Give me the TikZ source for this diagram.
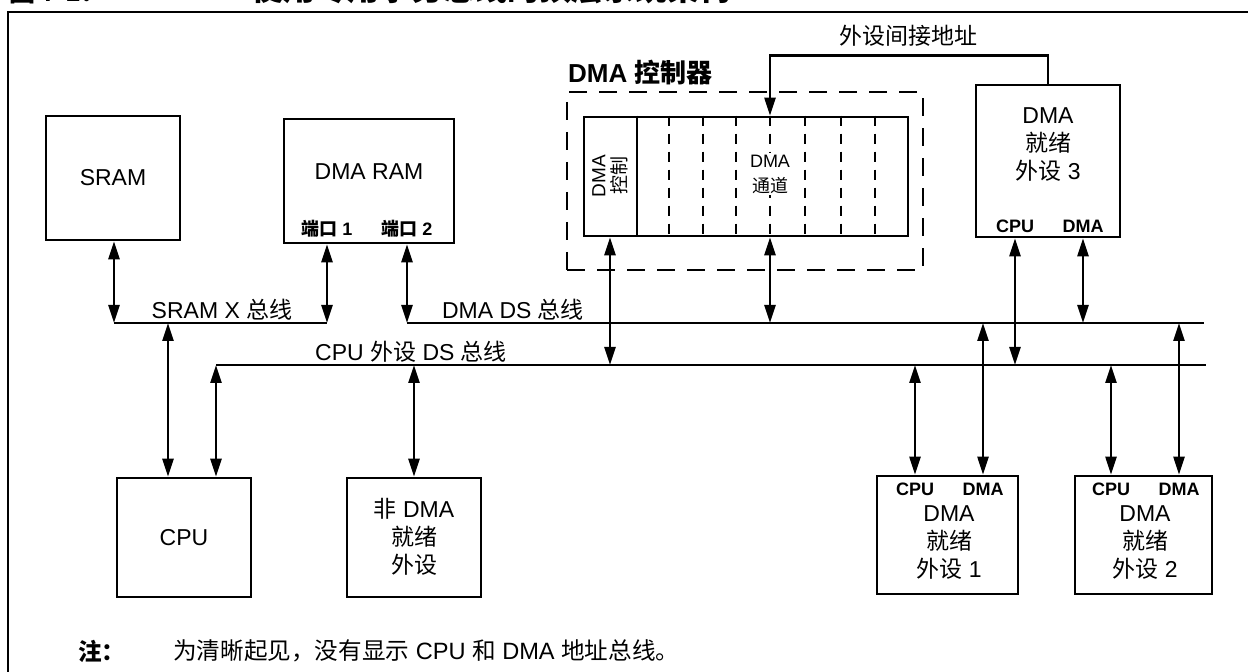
\documentclass[tikz,border=0pt]{standalone}
\usepackage{fontspec}
\setmainfont{Liberation Sans}
\newfontfamily\cjk{Noto Sans CJK SC}
\newcommand\zh[1]{{\cjk #1}}
\usetikzlibrary{arrows.meta}

\begin{document}
\begin{tikzpicture}[x=0.5pt, y=-0.5pt, line width=1.2pt,
    blk/.style={draw, line width=1.3pt, inner sep=0pt, align=center, font=\fontsize{11.5}{14}\selectfont},
    txt/.style={font=\fontsize{11.5}{14}\selectfont, inner sep=1pt, align=center},
    tag/.style={font=\bfseries\fontsize{9}{10}\selectfont, inner sep=1pt},
    bi/.style={{Triangle[length=9pt,width=5.5pt]}-{Triangle[length=9pt,width=5.5pt]}},
    uni/.style={-{Triangle[length=9pt,width=5.5pt]}},
    divider/.style={line width=1.1pt, dash pattern=on 5pt off 4pt}]
    \useasboundingbox (0,0) rectangle (1248,672);
    \draw (8,12) rectangle (1270,700);
    \node[font=\bfseries\fontsize{13}{15}\selectfont, anchor=base west, inner sep=0pt] (fig) at (8,2) {\zh{图} 7-1\zh{：}};
    \node[font=\bfseries\fontsize{16}{18}\selectfont, anchor=base west, inner sep=0pt] (title) at (250,1) {\zh{使用专用事务总线的顶层系统架构}};

    \node[blk, minimum width=67pt, minimum height=62pt] (sram) at (113,178) {SRAM};
    \node[blk, minimum width=85pt, minimum height=62pt] (ram) at (369,181) {};
    \node[txt] (ramtxt) at (369,172) {DMA RAM};
    \node[tag] (p1) at (327,229) {\zh{端口} 1};
    \node[tag] (p2) at (407,229) {\zh{端口} 2};

    \node[draw, dash pattern=on 9pt off 6pt, minimum width=178pt, minimum height=89pt] (ctrl) at (745,181) {};
    \node[font=\bfseries\fontsize{13}{15}\selectfont, anchor=base west, inner sep=0pt] (ctrltxt) at (567,83) {DMA \zh{控制器}};
    \node[blk, minimum width=162pt, minimum height=59.5pt] (chan) at (746,176.5) {};
    \draw (chan.north -| 637,0) -- (chan.south -| 637,0);
    \foreach \x in {669,703,736,770,805,841,875}
        \draw[divider] (chan.north -| \x,0) -- (chan.south -| \x,0);
    \node[rotate=90, align=center, font=\fontsize{9.5}{10.5}\selectfont, inner sep=0pt] (ctl) at (610,176) {DMA\\\zh{控制}};
    \node[align=center, fill=white, inner sep=1pt, font=\fontsize{9}{12.5}\selectfont] (chl) at (770,174) {DMA\\\zh{通道}};

    \node[blk, minimum width=72pt, minimum height=76pt] (dma3) at (1048,161) {};
    \node[txt] (dma3txt) at (1048,145) {DMA\\\zh{就绪}\\\zh{外设} 3};
    \node[tag] (c3) at (1015,226) {CPU};
    \node[tag] (d3) at (1083,226) {DMA};
    \node[txt] (addr) at (908,36) {\zh{外设间接地址}};
    \draw[uni] (dma3.north) -- ++(0,-28) -| (chl |- chan.north);

    \node[blk, minimum width=67pt, minimum height=59.5pt] (cpu) at (184,537.5) {CPU};
    \node[blk, minimum width=67pt, minimum height=59.5pt] (nondma) at (414,537.5) {};
    \node[txt] (nondmatxt) at (414,537) {\zh{非} DMA\\\zh{就绪}\\\zh{外设}};

    \node[blk, minimum width=70.5pt, minimum height=59pt] (dma1) at (947.5,535) {};
    \node[txt] (dma1txt) at (949,543) {DMA\\\zh{就绪}\\\zh{外设} 1};
    \node[tag] (c1) at (915,489) {CPU};
    \node[tag] (d1) at (983,489) {DMA};
    \node[blk, minimum width=68.5pt, minimum height=59pt] (dma2) at (1143.5,535) {};
    \node[txt] (dma2txt) at (1145,543) {DMA\\\zh{就绪}\\\zh{外设} 2};
    \node[tag] (c2) at (1111,489) {CPU};
    \node[tag] (d2) at (1179,489) {DMA};

    \coordinate (xbusL) at (114,323);
    \coordinate (xbusA) at (168,323);
    \coordinate (dsL) at (407,323);
    \coordinate (dsR) at (1204,323);
    \coordinate (cbL) at (216,365);
    \coordinate (cbR) at (1206,365);
    \draw (xbusL) -- (p1 |- xbusL);
    \draw (dsL) -- (dsR);
    \draw (cbL) -- (cbR);
    \node[txt] (xbustxt) at (222,310) {SRAM X \zh{总线}};
    \node[txt] (dstxt) at (513,310) {DMA DS \zh{总线}};
    \node[txt] (cbtxt) at (411,352) {CPU \zh{外设} DS \zh{总线}};

    \draw[bi] (xbusL |- sram.south) -- (xbusL);
    \draw[bi] (p1 |- ram.south) -- (p1 |- xbusL);
    \draw[bi] (p2 |- ram.south) -- (p2 |- dsL);
    \draw[bi] (xbusA) -- (xbusA |- cpu.north);
    \draw[bi] (cbL) -- (cbL |- cpu.north);
    \draw[bi] (nondma.north |- cbL) -- (nondma.north);
    \draw[bi] (ctl |- chan.south) -- (ctl |- cbL);
    \draw[bi] (chl |- chan.south) -- (chl |- dsL);
    \draw[bi] (c3 |- dma3.south) -- (c3 |- cbL);
    \draw[bi] (d3 |- dma3.south) -- (d3 |- dsL);
    \draw[bi] (c1 |- cbL) -- (c1 |- dma1.north);
    \draw[bi] (d1 |- dsL) -- (d1 |- dma1.north);
    \draw[bi] (c2 |- cbL) -- (c2 |- dma2.north);
    \draw[bi] (d2 |- dsL) -- (d2 |- dma2.north);

    \node[font=\bfseries\fontsize{11.8}{14}\selectfont, anchor=west, inner sep=0pt] (note) at (77,651) {\zh{注：}};
    \node[font=\fontsize{11.8}{14}\selectfont, anchor=west, inner sep=0pt] (notetxt) at (172,651) {\zh{为清晰起见，没有显示} CPU \zh{和} DMA \zh{地址总线。}};
\end{tikzpicture}
\end{document}
